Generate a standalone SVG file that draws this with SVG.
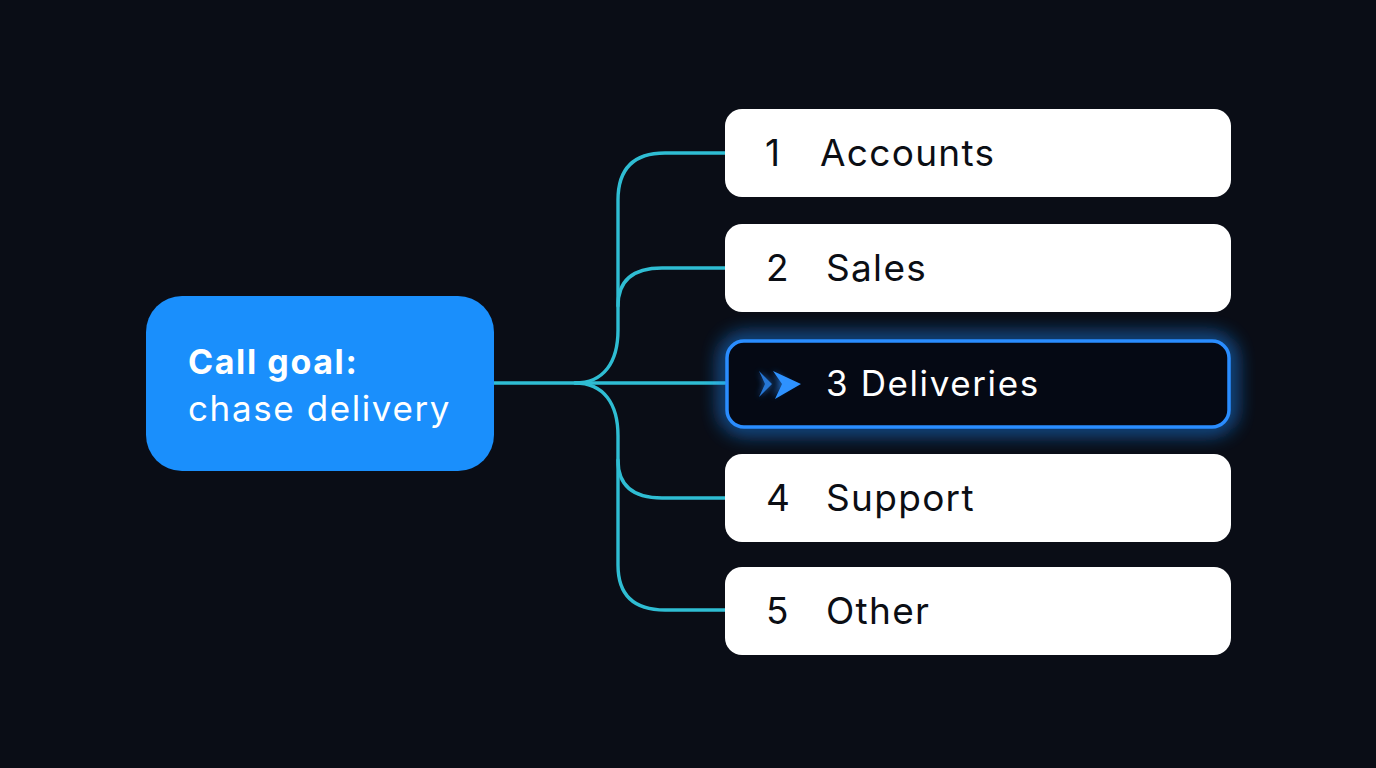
<svg xmlns="http://www.w3.org/2000/svg" width="1376" height="768" viewBox="0 0 1376 768">
<defs>
<style>
.opt{fill:#ffffff}
.lbl{font-family:Inter,"Noto Sans",sans-serif;font-size:37px;fill:#0b0e14;letter-spacing:1.3px}
.conn{fill:none;stroke:#2fbdd3;stroke-width:3.4;stroke-linecap:round}
</style>
<filter id="glow" x="-20%" y="-60%" width="140%" height="220%">
<feGaussianBlur stdDeviation="10"/>
</filter>
<filter id="soft" x="-50%" y="-50%" width="200%" height="200%">
<feGaussianBlur stdDeviation="3"/>
</filter>
</defs>
<rect width="1376" height="768" fill="#0a0d16"/>
<g id="connectors">
<path class="conn" d="M494,383 H725"/>
<path class="conn" d="M575,383 C604,383 618,362 618,330 V200 Q618,153 665,153 H725"/>
<path class="conn" d="M618,306 Q618,268 662,268 H725"/>
<path class="conn" d="M575,383 C604,383 618,404 618,436 V565 Q618,610 665,610 H725"/>
<path class="conn" d="M618,460 Q618,498 662,498 H725"/>
</g>
<g id="goal">
<rect x="146" y="296" width="348" height="175" rx="36" fill="#1a8ffc"/>
<text x="188" y="374" font-family="Inter,'Noto Sans',sans-serif" font-size="34" font-weight="700" fill="#ffffff" letter-spacing="1.6">Call goal:</text>
<text x="188" y="421" font-family="Inter,'Noto Sans',sans-serif" font-size="35" fill="#ffffff" letter-spacing="1.6">chase delivery</text>
</g>
<g id="opt1">
<rect class="opt" x="725" y="109" width="506" height="88" rx="17"/>
<text class="lbl" x="765" y="166">1</text>
<text class="lbl" x="820" y="166">Accounts</text>
</g>
<g id="opt2">
<rect class="opt" x="725" y="224" width="506" height="88" rx="17"/>
<text class="lbl" x="766" y="281">2</text>
<text class="lbl" x="826" y="281">Sales</text>
</g>
<g id="opt3">
<rect x="727" y="341" width="502" height="86" rx="17" fill="none" stroke="#1f8cff" stroke-width="10" filter="url(#glow)" opacity="0.95"/>
<rect x="727" y="341" width="502" height="86" rx="17" fill="#050914" stroke="#2a8dff" stroke-width="3.5"/>
<g filter="url(#soft)" opacity="0.7">
<path d="M759,371 L772,384 L759,397 L765,384 Z M773,371 L789,384 L773,397 L779,384 Z" fill="#2a8dff"/>
</g>
<path d="M759,371 L772,384 L759,397 L765,384 Z" fill="#2677d6"/>
<path d="M773,371 L801,384 L775,399 L782,384 Z" fill="#2e92ff"/>
<text x="826" y="396" font-family="Inter,'Noto Sans',sans-serif" font-size="35" fill="#ffffff" letter-spacing="1.6">3 Deliveries</text>
</g>
<g id="opt4">
<rect class="opt" x="725" y="454" width="506" height="88" rx="17"/>
<text class="lbl" x="766" y="511">4</text>
<text class="lbl" x="826" y="511">Support</text>
</g>
<g id="opt5">
<rect class="opt" x="725" y="567" width="506" height="88" rx="17"/>
<text class="lbl" x="766" y="624">5</text>
<text class="lbl" x="826" y="624">Other</text>
</g>
</svg>
